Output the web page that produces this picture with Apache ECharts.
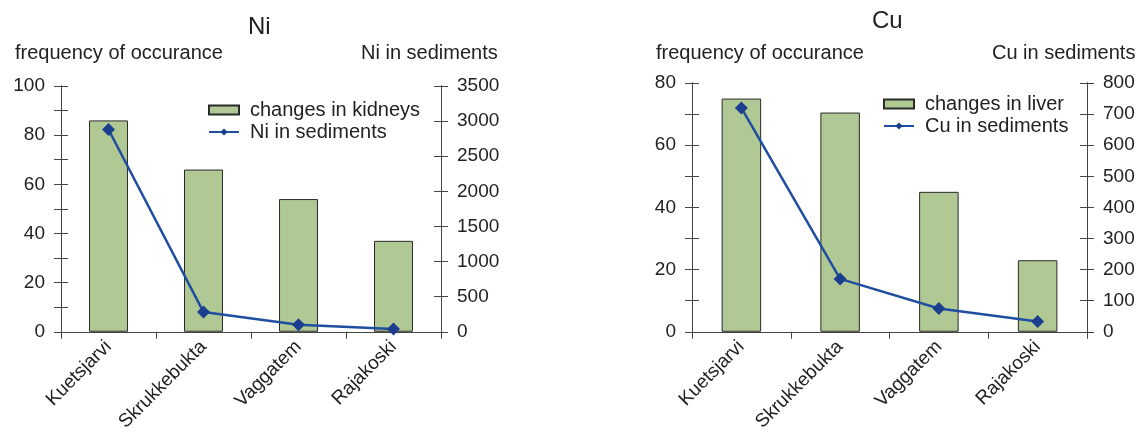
<!DOCTYPE html>
<html><head><meta charset="utf-8">
<script src="https://cdn.jsdelivr.net/npm/echarts@6/dist/echarts.min.js"></script>
<style>html,body{margin:0;padding:0;background:#fff}#c{width:1140px;height:434px}</style>
</head><body><div id="c"></div>
<script>
const sites = ['Kuetsjarvi', 'Skrukkebukta', 'Vaggatem', 'Rajakoski'];
const niKidneys = [86, 66, 54, 37];
const niSediments = [2880, 280, 100, 40];
const cuLiver = [75, 70.5, 45, 23];
const cuSediments = [720, 170, 75, 33];

const FONT = '"Liberation Sans", Arial, sans-serif';
const TXT = '#222';
const AX = '#444';
const BAR = '#b0c994';
const LINE = '#1f4ea0';
const MARK = '#1b3f8e';

function yAx(gi, pos, max, interval, labelEvery, showLabel, inside) {
  return {
    type: 'value', gridIndex: gi, position: pos, min: 0, max: max, interval: interval,
    axisLine: { show: true, lineStyle: { color: AX, width: 1 } },
    axisTick: { show: true, inside: inside, length: 7, lineStyle: { color: AX } },
    axisLabel: { show: showLabel, color: TXT, fontSize: 19, fontFamily: FONT, margin: 16,
      formatter: v => (Math.round(v) % labelEvery === 0 ? String(Math.round(v)) : '') },
    splitLine: { show: false }
  };
}
function xAx(gi) {
  return {
    type: 'category', gridIndex: gi, data: sites,
    axisLine: { lineStyle: { color: AX } },
    axisTick: { show: true, length: 7, lineStyle: { color: AX } },
    axisLabel: { rotate: 45, color: TXT, fontSize: 19, fontFamily: FONT, margin: 12, interval: 0 }
  };
}
const txt = (text, left, top, size) => ({ text, left, top, padding: 0, textStyle: { fontSize: size, fontWeight: 'normal', color: TXT, fontFamily: FONT } });
const legend = (data, left, top) => ({
  data, orient: 'vertical', left, top, padding: 0, itemWidth: 30, itemHeight: 9, itemGap: 2,
  textStyle: { fontSize: 20, lineHeight: 20, color: TXT, fontFamily: FONT, padding: [0, 0, 0, 6] }
});

const option = {
  animation: false,
  title: [
    txt('Ni', 248, 15, 24),
    txt('frequency of occurance', 15, 43, 20),
    txt('Ni in sediments', 361, 43, 20),
    txt('Cu', 872, 9, 24),
    txt('frequency of occurance', 656, 43, 20),
    txt('Cu in sediments', 992, 43, 20)
  ],
  legend: [
    legend([{ name: 'changes in kidneys', icon: 'rect' }, 'Ni in sediments'], 208, 100),
    legend([{ name: 'changes in liver', icon: 'rect' }, 'Cu in sediments'], 883, 94)
  ],
  grid: [
    { left: 61, right: 699, top: 86, bottom: 102 },
    { left: 692, right: 53, top: 83, bottom: 102 }
  ],
  xAxis: [xAx(0), xAx(1)],
  yAxis: [
    yAx(0, 'left', 100, 10, 20, true, false),
    yAx(0, 'right', 3500, 500, 500, true, false),
    yAx(1, 'left', 80, 10, 20, true, false),
    yAx(1, 'right', 800, 100, 100, true, false),
    yAx(0, 'left', 100, 10, 20, false, true),
    yAx(0, 'right', 3500, 500, 500, false, true),
    yAx(1, 'left', 80, 10, 20, false, true),
    yAx(1, 'right', 800, 100, 100, false, true)
  ],
  series: [
    { name: 'changes in kidneys', type: 'bar', xAxisIndex: 0, yAxisIndex: 0, data: niKidneys, barWidth: '41%',
      itemStyle: { color: BAR, borderColor: '#2a2a2a', borderWidth: 1 } },
    { name: 'Ni in sediments', type: 'line', xAxisIndex: 0, yAxisIndex: 1, data: niSediments,
      symbol: 'diamond', symbolSize: 13, lineStyle: { color: LINE, width: 2.5 }, itemStyle: { color: MARK } },
    { name: 'changes in liver', type: 'bar', xAxisIndex: 1, yAxisIndex: 2, data: cuLiver, barWidth: '40%',
      itemStyle: { color: BAR, borderColor: '#2a2a2a', borderWidth: 1 } },
    { name: 'Cu in sediments', type: 'line', xAxisIndex: 1, yAxisIndex: 3, data: cuSediments,
      symbol: 'diamond', symbolSize: 13, lineStyle: { color: LINE, width: 2.5 }, itemStyle: { color: MARK } }
  ]
};
echarts.init(document.getElementById('c'), null, { renderer: 'canvas' }).setOption(option);
</script>
</body></html>
